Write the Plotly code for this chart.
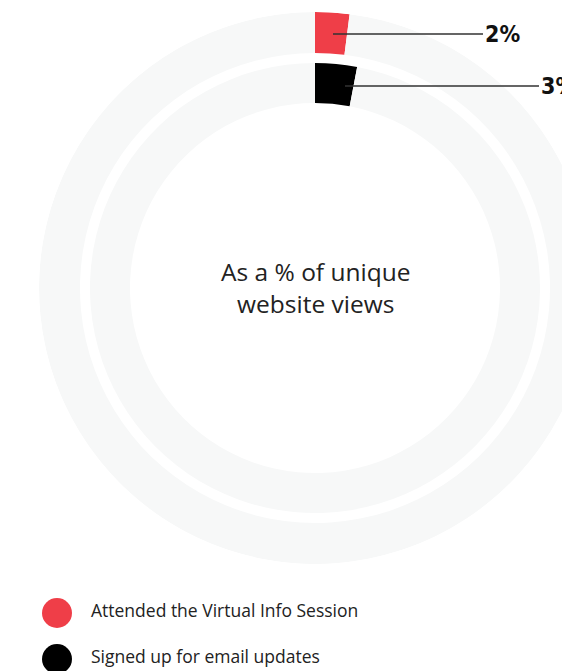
import plotly.graph_objects as go

# ---- data ----
series_names = ["Attended the Virtual Info Session", "Signed up for email updates"]
values_pct = [2, 3]
value_labels = ["2%", "3%"]
center_text = "As a % of unique<br>website views"

# ---- style ----
colors = ["#ef3e48", "#000000"]
track_color = "#f7f8f8"
W, H = 630, 671
CX, CY = 315, 288
R_MAX = 276
rings = [(235, 276), (185, 225)]  # (inner, outer) radius in px for each series
LEG_TOP = 590
TEXT_FONT = "'Open Sans', 'Noto Sans', sans-serif"

fig = go.Figure()

for i, (name, v) in enumerate(zip(series_names, values_pct)):
    r0, r1 = rings[i]
    fig.add_trace(go.Barpolar(
        r=[r1 - r0, r1 - r0],
        base=[r0, r0],
        theta=[v * 3.6 / 2, (100 + v) * 3.6 / 2],
        width=[v * 3.6, (100 - v) * 3.6],
        marker=dict(color=[colors[i], track_color], line=dict(width=0)),
        name=name,
        showlegend=False,
        hoverinfo="skip",
    ))

# legend drawn as category markers + labels
fig.add_trace(go.Scatter(
    x=[0] * len(series_names),
    y=series_names,
    mode="markers",
    marker=dict(size=30, color=colors, line=dict(width=0)),
    showlegend=False,
    hoverinfo="skip",
    cliponaxis=False,
))
fig.add_trace(go.Scatter(
    x=[34] * len(series_names),
    y=series_names,
    mode="text",
    text=series_names,
    textposition="middle right",
    textfont=dict(family=TEXT_FONT, size=17.5, color="#222222"),
    showlegend=False,
    hoverinfo="skip",
    cliponaxis=False,
))

fig.update_layout(
    width=W, height=H,
    margin=dict(l=0, r=0, t=0, b=0),
    paper_bgcolor="white",
    plot_bgcolor="rgba(0,0,0,0)",
    polar=dict(
        domain=dict(x=[(CX - R_MAX) / W, (CX + R_MAX) / W],
                    y=[1 - (CY + R_MAX) / H, 1 - (CY - R_MAX) / H]),
        bgcolor="rgba(0,0,0,0)",
        hole=0,
        radialaxis=dict(range=[0, R_MAX], visible=False, showgrid=False),
        angularaxis=dict(rotation=90, direction="clockwise", visible=False,
                         showgrid=False, thetaunit="degrees"),
    ),
    xaxis=dict(domain=[0, 1], range=[-57, W - 57], visible=False, fixedrange=True),
    yaxis=dict(domain=[0, (H - LEG_TOP) / H], range=[-0.5 + (H - LEG_TOP) / 46, -0.5],
               visible=False, fixedrange=True, type="category"),
    showlegend=False,
)

# center text
fig.add_annotation(
    x=CX / W, y=1 - 287 / H, xref="paper", yref="paper",
    text=center_text, showarrow=False,
    font=dict(family=TEXT_FONT, size=24.5, color="#222222"),
    align="center",
)

# value labels with leader lines
label_pts = [(333, 34, 169), (345, 86, 213)]
for (px, py, ax), lab in zip(label_pts, value_labels):
    fig.add_annotation(
        x=px / W, y=1 - py / H, xref="paper", yref="paper",
        text="<b>" + lab + "</b>", showarrow=True, arrowhead=0,
        arrowwidth=1.4, arrowcolor="#333333",
        ax=ax, ay=0,
        font=dict(family="'DejaVu Sans Condensed', 'Liberation Sans Narrow', sans-serif",
                  size=23, color="#111111"),
    )

fig.write_html("out.html")
